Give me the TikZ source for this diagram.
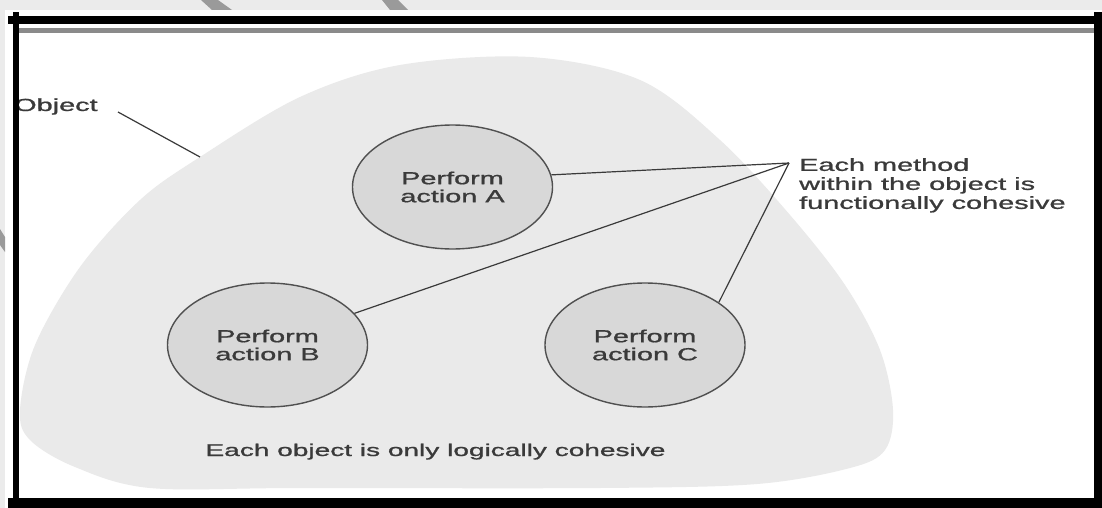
\documentclass[tikz,border=0pt]{standalone}
\usepackage{fontspec}
\setmainfont{Liberation Sans}
\newfontfamily\medfont[FakeBold=0.9]{Liberation Sans}
\usepackage{graphicx}
\usetikzlibrary{shapes.geometric}
\definecolor{bandgrey}{HTML}{EBEBEB}
\definecolor{blobgrey}{HTML}{EAEAEA}
\definecolor{actfill}{HTML}{D8D8D8}
\definecolor{inkgrey}{HTML}{3A3A3A}
\definecolor{edgegrey}{HTML}{505050}
\definecolor{markgrey}{HTML}{9A9A9A}
\definecolor{rulegrey}{HTML}{8A8A8A}
\newcommand{\sxt}[1]{\scalebox{1.65}[1]{#1}}
\tikzset{
  actbox/.style={ellipse, draw=edgegrey, line width=1.4pt, fill=actfill,
    minimum width=200pt, minimum height=124pt, inner sep=0pt},
  acttext/.style={text=inkgrey, align=center, inner sep=0pt,
    font=\medfont\fontsize{17.5}{18}\selectfont},
  labeltext/.style={text=inkgrey, inner sep=0pt,
    font=\medfont\fontsize{17.5}{19}\selectfont},
  leader/.style={draw=inkgrey, line width=1.2pt},
  framerule/.style={draw=black}
}
\begin{document}
\begin{tikzpicture}[x=1pt,y=-1pt]
\useasboundingbox (0,0) rectangle (1102,508);
% page background
\fill[bandgrey] (0,0) rectangle (1102,508);
\fill[white] (5,10) rectangle (1102,508);
% watermark strokes
\fill[markgrey] (201,0) -- (218,0) -- (232,10) -- (212,10) -- cycle;
\fill[markgrey] (382,0) -- (398,0) -- (408,10) -- (390,10) -- cycle;
\fill[markgrey] (0,229) -- (5,237) -- (5,252) -- (0,245) -- cycle;
% object blob
\fill[blobgrey] plot[smooth cycle, tension=0.55] coordinates {
  (530,57) (640,80) (720,140) (790,215) (845,285) (880,350) (893,410)
  (885,450) (850,468) (757,484) (600,488) (300,488) (150,488) (75,467)
  (30,440) (20,410) (35,345) (80,267) (140,200) (200,157) (300,97) (400,65)};
% activity ellipses
\node[actbox] (A) at (452.5,187) {};
\node[actbox] (B) at (267.5,345) {};
\node[actbox] (C) at (645,345) {};
\node[acttext] (tA) at (A.center) {\sxt{Perform}\\\sxt{action A}};
\node[acttext] (tB) at (B.center) {\sxt{Perform}\\\sxt{action B}};
\node[acttext] (tC) at (C.center) {\sxt{Perform}\\\sxt{action C}};
% connectors
\coordinate (P) at (789,163);
\draw[leader] (A.7) -- (P);
\draw[leader] (B.20) -- (P);
\draw[leader] (C.30) -- (P);
\node[labeltext, align=left, anchor=north west] (meth) at (799,158)
  {\sxt{Each method}\\\sxt{within the object is}\\\sxt{functionally cohesive}};
% object label
\node[labeltext, anchor=base west] (obj) at (14,111) {\sxt{Object}};
\coordinate (objS) at (118,112);
\coordinate (objE) at (200,157);
\draw[leader] (objS) -- (objE);
% bottom caption
\node[labeltext, anchor=base, font=\medfont\fontsize{17}{19}\selectfont] (cap) at (435.5,456)
  {\sxt{Each object is only logically cohesive}};
% frame
\fill[rulegrey] (19,28) rectangle (1094,33);
\fill[black] (8,16) rectangle (1100,24);
\fill[black] (12.5,12) rectangle (19,508);
\fill[black] (1094,12) rectangle (1102,508);
\fill[black] (8,498) rectangle (1102,508);
\end{tikzpicture}
\end{document}
